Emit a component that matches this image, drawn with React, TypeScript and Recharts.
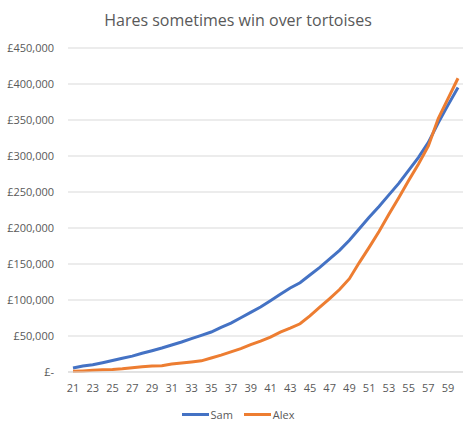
import React from 'react';
import {
  LineChart,
  Line,
  XAxis,
  YAxis,
  CartesianGrid,
  Legend
} from 'recharts';

const ages = [
  21, 22, 23, 24, 25, 26, 27, 28, 29, 30,
  31, 32, 33, 34, 35, 36, 37, 38, 39, 40,
  41, 42, 43, 44, 45, 46, 47, 48, 49, 50,
  51, 52, 53, 54, 55, 56, 57, 58, 59, 60
];

const sam = [
  5500, 8300, 10100, 12900, 16000, 19000, 22000, 26000, 29600, 33300,
  37500, 41700, 46300, 50800, 55500, 62000, 68000, 75400, 82800, 90200,
  99000, 108000, 116700, 124000, 134700, 145300, 157000, 169000, 183000, 199000,
  215000, 230000, 246000, 262000, 280000, 298000, 319000, 346000, 371000, 395000
];

const alex = [
  1000, 1500, 2300, 3000, 3500, 4500, 6000, 7400, 8300, 8800,
  11000, 12500, 14000, 15500, 19500, 23500, 28000, 32500, 38000, 43000,
  48500, 55500, 61000, 67000, 78000, 90000, 102000, 114500, 129600, 152000,
  173000, 195000, 219000, 242000, 266000, 289000, 314000, 352000, 380000, 408000
];

const yTicks = [0, 50000, 100000, 150000, 200000, 250000, 300000, 350000, 400000, 450000];

const title = 'Hares sometimes win over tortoises';

const data = ages.map((age, i) => ({ age, Sam: sam[i], Alex: alex[i] }));

const FONT = '"Open Sans", sans-serif';
const TEXT = '#595959';
const GRID = '#d9d9d9';
const BLUE = '#4472C4';
const ORANGE = '#ED7D31';

const money = (v: number) => (v === 0 ? '£-' : '£' + v.toLocaleString('en-GB'));

const LegendBox = () => (
  <div style={{ display: 'flex', justifyContent: 'center', alignItems: 'center', fontFamily: FONT, fontSize: 11, color: TEXT }}>
    <span style={{ display: 'inline-block', width: 27, height: 3, background: BLUE, marginRight: 2 }} />
    <span style={{ marginRight: 11 }}>Sam</span>
    <span style={{ display: 'inline-block', width: 27, height: 3, background: ORANGE, marginRight: 2 }} />
    <span>Alex</span>
  </div>
);

export default function App() {
  return (
    <div style={{ position: 'absolute', left: 0, top: 0, width: 476, height: 433, background: '#fff' }}>
      <div
        style={{
          position: 'absolute',
          top: 9,
          left: 0,
          width: 476,
          textAlign: 'center',
          fontFamily: FONT,
          fontSize: 16,
          color: TEXT
        }}
      >
        {title}
      </div>
      <LineChart width={476} height={433} data={data} margin={{ top: 48, right: 13, left: 0, bottom: 31 }}>
        <CartesianGrid vertical={false} stroke={GRID} />
        <XAxis
          dataKey="age"
          interval={1}
          padding={{ left: 5, right: 5 }}
          tickLine={false}
          axisLine={{ stroke: GRID }}
          tickMargin={6}
          tick={{ fill: TEXT, fontSize: 11, fontFamily: FONT }}
        />
        <YAxis
          width={68}
          domain={[0, 450000]}
          ticks={yTicks}
          tickFormatter={money}
          tickLine={false}
          axisLine={false}
          tickMargin={8}
          tick={{ fill: TEXT, fontSize: 11, fontFamily: FONT }}
        />
        <Line dataKey="Sam" stroke={BLUE} strokeWidth={3} dot={false} isAnimationActive={false} />
        <Line dataKey="Alex" stroke={ORANGE} strokeWidth={3} dot={false} isAnimationActive={false} />
        <Legend
          layout="horizontal"
          verticalAlign="middle"
          align="center"
          wrapperStyle={{ top: 407, left: 0, width: 476 }}
          content={() => <LegendBox />}
        />
      </LineChart>
    </div>
  );
}
